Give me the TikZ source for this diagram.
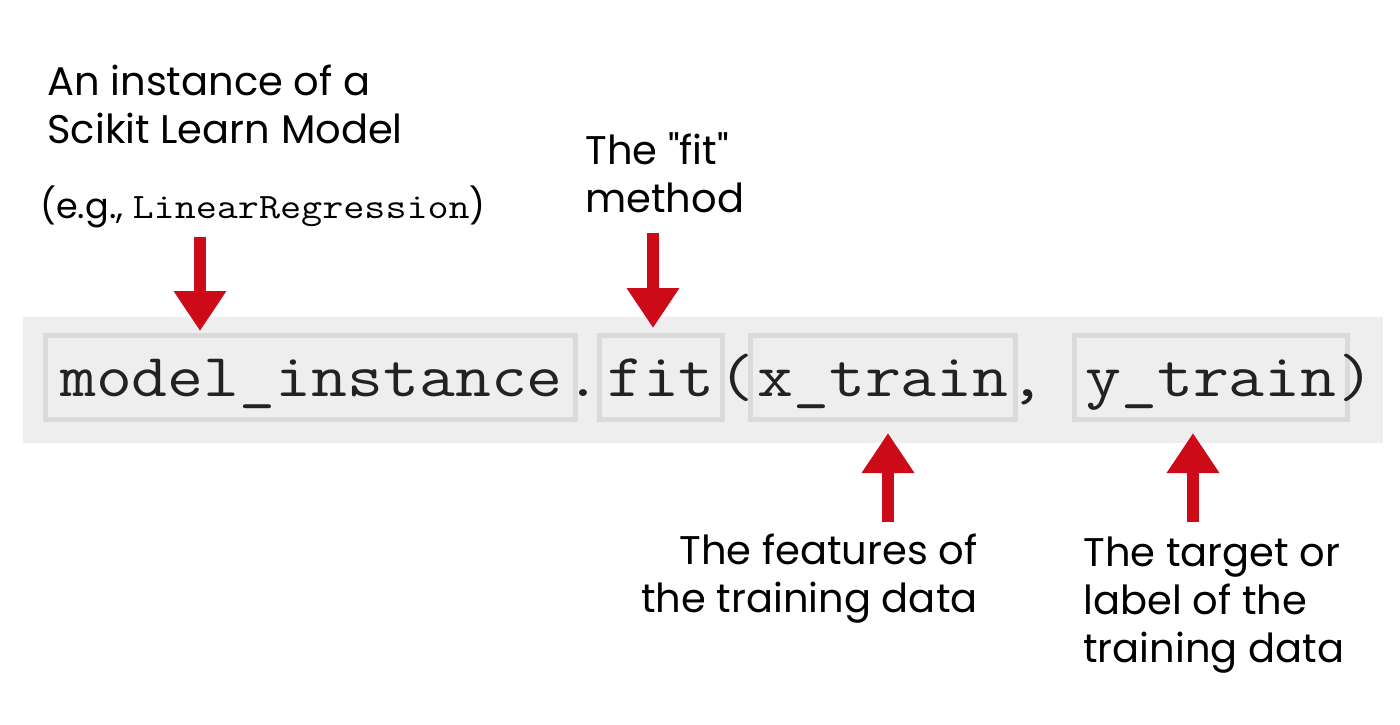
\documentclass[tikz,border=0pt]{standalone}
\usepackage{fontspec}
\setmainfont{Poppins}
\newfontfamily\codefont{Latin Modern Mono}[FakeStretch=1.143]
\usetikzlibrary{arrows.meta}
\definecolor{band}{HTML}{EEEEEE}
\definecolor{boxline}{HTML}{DADADA}
\definecolor{arrowred}{HTML}{CC0A18}
\definecolor{codetext}{HTML}{222222}
\tikzset{
  cbox/.style={draw=boxline, line width=2.5pt, inner sep=0pt, minimum height=42pt},
  code/.style={anchor=base, inner sep=0pt, font=\fontsize{30.5}{30.5}\selectfont\codefont, text=codetext},
  lbl/.style={inner sep=0pt, font=\fontsize{20}{24}\selectfont, align=left},
  redarrow/.style={draw=arrowred, line width=6pt, -{Triangle[width=25pt,length=20pt]}}
}
\begin{document}
\begin{tikzpicture}[x=0.5pt,y=-0.5pt]
\useasboundingbox (0,0) rectangle (1400,724);
\fill[band] (23,317) rectangle (1383,443);
% boxes
\node[cbox, minimum width=265pt] (mi) at (310.5,377.5) {};
\node[cbox, minimum width=61.5pt] (fit) at (661,377.5) {};
\node[cbox, minimum width=132.5pt] (xt) at (883,377.5) {};
\node[cbox, minimum width=136.5pt] (yt) at (1211,377.5) {};
% code text
\node[code] (mit) at (311.5,396) {model\_instance};
\node[code] (dot) at (583,396) {.};
\node[code] (fitt) at (661,396) {fit};
\node[code] (lp) at (736,396) {(};
\node[code] (xtt) at (883,396) {x\_train};
\node[code] (cm) at (1027,396) {,};
\node[code] (ytt) at (1211,396) {y\_train};
\node[code] (rp) at (1356,396) {)};
% labels
\node[lbl, anchor=base west] (l1) at (47,143) {An instance of a\\Scikit Learn Model};
\node[inner sep=0pt, anchor=base west, font=\fontsize{17.5}{17.5}\selectfont] (l1b) at (40,218) {(e.g., {\codefont\fontsize{17.9}{17.9}\selectfont LinearRegression})};
\node[lbl, anchor=base west] (l2) at (585,212) {The \textquotedbl fit\textquotedbl\\method};
\node[lbl, anchor=base east, align=right] (l3) at (978,612) {The features of\\the training data};
\node[lbl, anchor=base west] (l4) at (1083,662) {The target or\\label of the\\training data};
% arrows
\coordinate (a1) at (200,237);
\coordinate (a2) at (653,233);
\coordinate (a3) at (888,522);
\coordinate (a4) at (1193,522);
\draw[redarrow] (a1) -- ([yshift=1pt]a1 |- mi.north);
\draw[redarrow] (a2) -- ([yshift=2.5pt]a2 |- fit.north);
\draw[redarrow] (a3) -- ([yshift=-5.5pt]a3 |- xt.south);
\draw[redarrow] (a4) -- ([yshift=-5.5pt]a4 |- yt.south);
\end{tikzpicture}
\end{document}
